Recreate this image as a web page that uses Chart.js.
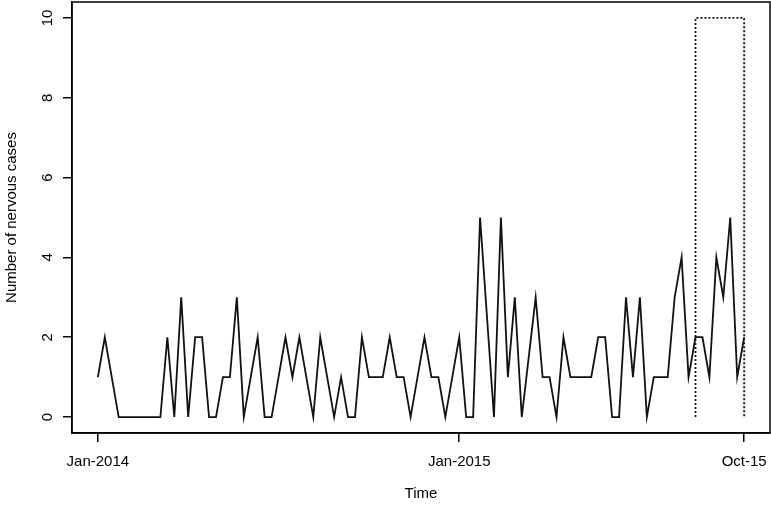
<!DOCTYPE html>
<html>
<head>
<meta charset="utf-8">
<script src="https://cdn.jsdelivr.net/npm/chart.js@4.4.0/dist/chart.umd.min.js"></script>
<style>
  html, body { margin: 0; padding: 0; background: #fff; }
  canvas { display: block; }
</style>
</head>
<body>
<canvas id="chart" width="771" height="506"></canvas>
<script>
// weekly counts, week index from first week of Jan 2014
const weeks = [0, 1, 2, 3, 4, 5, 6, 7, 8, 9, 10, 11, 12, 13, 14, 15, 16, 17, 18, 19,
  20, 21, 22, 23, 24, 25, 26, 27, 28, 29, 30, 31, 32, 33, 34, 35, 36, 37, 38, 39,
  40, 41, 42, 43, 44, 45, 46, 47, 48, 49, 50, 51, 52, 53, 54, 55, 57, 58, 59, 60,
  61, 63, 64, 65, 66, 67, 68, 69, 70, 71, 72, 73, 74, 75, 76, 77, 78, 79, 80, 81,
  82, 83, 84, 85, 86, 87, 88, 89, 90, 91, 92, 93];
const cases = [1, 2, 1, 0, 0, 0, 0, 0, 0, 0, 2, 0, 3, 0, 2, 2, 0, 0, 1, 1,
  3, 0, 1, 2, 0, 0, 1, 2, 1, 2, 1, 0, 2, 1, 0, 1, 0, 0, 2, 1,
  1, 1, 2, 1, 1, 0, 1, 2, 1, 1, 0, 1, 2, 0, 0, 5, 0, 5, 1, 3,
  0, 3, 1, 1, 0, 2, 1, 1, 1, 1, 2, 2, 0, 0, 3, 1, 3, 0, 1, 1,
  1, 3, 4, 1, 2, 2, 1, 4, 3, 5, 1, 2];

// dotted window at the end of the series
const boxWeeks = [86, 86, 93, 93];
const boxCases = [0, 10, 10, 0];

const xTickWeeks = [0, 52, 93];
const xTickLabels = ['Jan-2014', 'Jan-2015', 'Oct-15'];
const yTicks = [0, 2, 4, 6, 8, 10];

const FONT = { family: '"Liberation Sans", Arial, sans-serif', size: 15 };

// closes the box round the plot region
const frame = {
    id: 'frame',
    afterDraw(chart) {
        const { ctx, chartArea: a } = chart;
        ctx.save();
        ctx.strokeStyle = '#000';
        ctx.lineWidth = 1.5;
        ctx.strokeRect(a.left, a.top, a.right - a.left, a.bottom - a.top);
        ctx.restore();
    }
};

// y tick labels written parallel to the axis, like R
const yLabels = {
    id: 'yLabels',
    afterDraw(chart) {
        const { ctx } = chart;
        const y = chart.scales.y;
        ctx.save();
        ctx.fillStyle = '#000';
        ctx.font = FONT.size + 'px ' + FONT.family;
        ctx.textAlign = 'center';
        ctx.textBaseline = 'middle';
        y.ticks.forEach(t => {
            ctx.save();
            ctx.translate(48, y.getPixelForValue(t.value));
            ctx.rotate(-Math.PI / 2);
            ctx.fillText(String(t.value), 0, 0);
            ctx.restore();
        });
        ctx.restore();
    }
};

new Chart(document.getElementById('chart'), {
    type: 'line',
    data: {
        datasets: [{
            data: weeks.map((w, i) => ({ x: w, y: cases[i] })),
            borderColor: '#111',
            borderWidth: 1.8,
            pointRadius: 0,
            tension: 0,
            fill: false
        }, {
            data: boxWeeks.map((w, i) => ({ x: w, y: boxCases[i] })),
            borderColor: '#111',
            borderWidth: 1.8,
            borderDash: [2, 2],
            pointRadius: 0,
            tension: 0,
            fill: false
        }]
    },
    options: {
        responsive: false,
        animation: false,
        devicePixelRatio: 1,
        layout: { padding: { top: 2, right: 1, left: 0, bottom: 0 } },
        plugins: { legend: { display: false }, tooltip: { enabled: false } },
        scales: {
            x: {
                type: 'linear',
                min: -3.72,
                max: 96.72,
                afterBuildTicks: s => { s.ticks = xTickWeeks.map(v => ({ value: v })); },
                afterFit: s => { s.height = 73; s.paddingLeft = 0; s.paddingRight = 0; },
                ticks: {
                    font: FONT,
                    color: '#000',
                    padding: 11,
                    maxRotation: 0,
                    autoSkip: false,
                    callback: v => xTickLabels[xTickWeeks.indexOf(v)]
                },
                grid: { drawOnChartArea: false, tickLength: 9, color: '#000', lineWidth: 1.5 },
                border: { color: '#000', width: 1.5 },
                title: { display: true, text: 'Time', font: FONT, color: '#000', padding: { top: 0, bottom: 3 } }
            },
            y: {
                min: -0.4,
                max: 10.4,
                afterBuildTicks: s => { s.ticks = yTicks.map(v => ({ value: v })); },
                afterFit: s => { s.width = 72; s.paddingTop = 0; s.paddingBottom = 0; },
                ticks: { display: false },
                grid: { drawOnChartArea: false, tickLength: 9, color: '#000', lineWidth: 1.5 },
                border: { color: '#000', width: 1.5 },
                title: { display: true, text: 'Number of nervous cases', font: FONT, color: '#000', padding: { top: 3, bottom: 0 } }
            }
        }
    },
    plugins: [frame, yLabels]
});
</script>
</body>
</html>
